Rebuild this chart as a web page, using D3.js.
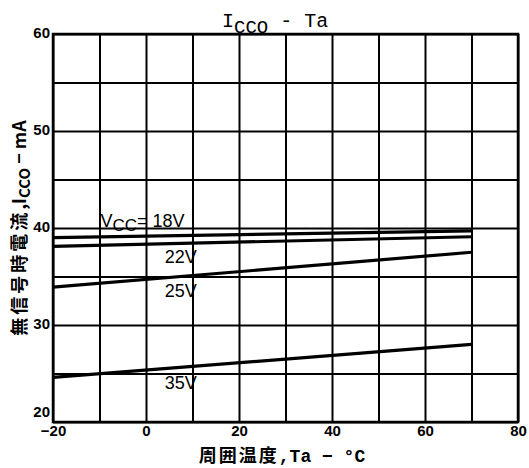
<!DOCTYPE html>
<html><head><meta charset="utf-8">
<script src="https://cdn.jsdelivr.net/npm/d3@7"></script>
<style>
html,body{margin:0;padding:0;background:#fff;}
svg{display:block;}
</style></head>
<body>
<script>
// ---- data ----
const temps = [-20, 70];                 // Ta (°C)
const seriesNames = ["18V", "22V", "25V", "35V"];
const vcc18 = [39.0, 39.7];
const vcc22 = [38.1, 39.1];
const vcc25 = [33.9, 37.5];
const vcc35 = [24.6, 28.0];
const xTickLabels = [-20, 0, 20, 40, 60, 80];
const yTickLabels = [20, 30, 40, 50, 60];
const xGrid = [-20, -10, 0, 10, 20, 30, 40, 50, 60, 70, 80];
const yGrid = [20, 25, 30, 35, 40, 45, 50, 55, 60];
// label anchor positions (data coords)
const labelTa = [-10, 1, 1, 1];
const labelI  = [40.1, 36.4, 32.9, 23.4];

const W = 529, H = 468;
const m = {l: 53, r: 11, t: 34, b: 46};
const svg = d3.select("body").append("svg").attr("width", W).attr("height", H);

const x = d3.scaleLinear().domain([-20, 80]).range([m.l, W - m.r]);
const y = d3.scaleLinear().domain([20, 60]).range([H - m.b, m.t]);
const pw = W - m.l - m.r, ph = H - m.t - m.b;

// grid via axes
const gx = svg.append("g").attr("transform", `translate(0,${H - m.b})`)
  .call(d3.axisBottom(x).tickValues(xGrid).tickSize(-ph).tickFormat(""));
const gy = svg.append("g").attr("transform", `translate(${m.l},0)`)
  .call(d3.axisLeft(y).tickValues(yGrid).tickSize(-pw).tickFormat(""));
[gx, gy].forEach(g => {
  g.select(".domain").remove();
  g.selectAll("line").attr("stroke", "#000").attr("stroke-width", 2);
});
svg.append("rect").attr("x", m.l).attr("y", m.t).attr("width", pw).attr("height", ph)
  .attr("fill", "none").attr("stroke", "#000").attr("stroke-width", 2.5);

// tick labels
const ax = svg.append("g").attr("transform", `translate(0,${H - m.b})`)
  .call(d3.axisBottom(x).tickValues(xTickLabels).tickSize(0).tickPadding(3));
ax.select(".domain").remove();
ax.selectAll("text").attr("font-family", "Liberation Sans, Arial, sans-serif")
  .attr("font-weight", "bold").attr("font-size", 15).attr("fill", "#000");
const ay = svg.append("g").attr("transform", `translate(${m.l},0)`)
  .call(d3.axisLeft(y).tickValues(yTickLabels).tickSize(0).tickPadding(3));
ay.select(".domain").remove();
ay.selectAll("text").attr("font-family", "Liberation Sans, Arial, sans-serif")
  .attr("font-weight", "bold").attr("font-size", 15).attr("fill", "#000")
  .attr("dy", d => d === 20 ? "-0.4em" : "0.25em");

// lines
const series = [vcc18, vcc22, vcc25, vcc35];
const line = d3.line().x(d => x(d[0])).y(d => y(d[1]));
series.forEach(s => {
  svg.append("path").datum(temps.map((t, i) => [t, s[i]]))
    .attr("d", line).attr("fill", "none").attr("stroke", "#000").attr("stroke-width", 3.2);
});

// series labels
const lf = "Liberation Sans, Arial, sans-serif";
seriesNames.forEach((n, i) => {
  const t = svg.append("text").attr("x", x(labelTa[i])).attr("y", y(labelI[i]))
    .attr("font-family", lf).attr("font-size", 18).attr("fill", "#000");
  if (i === 0) {
    t.append("tspan").text("V");
    t.append("tspan").attr("dy", 4).attr("font-size", 17).text("CC");
    t.append("tspan").attr("dy", -4).text("= " + n);
    t.attr("x", x(labelTa[i]) + 1);
  } else {
    t.attr("x", x(labelTa[i]) + 14).text(n);
  }
});

// title
const tt = svg.append("text").attr("x", 222).attr("y", 27)
  .attr("font-family", "Liberation Mono, DejaVu Sans Mono, monospace")
  .attr("font-size", 20).attr("fill", "#000");
tt.append("tspan").text("I");
tt.append("tspan").attr("dy", 6).attr("font-size", 19).text("CCO");
tt.append("tspan").attr("dy", -6).text(" - Ta");

// x axis title
const xt = svg.append("text").attr("x", 282).attr("y", 462).attr("text-anchor", "middle")
  .attr("font-family", "Noto Sans CJK JP, sans-serif").attr("font-size", 18)
  .attr("font-weight", "bold").attr("fill", "#000");
xt.append("tspan").attr("letter-spacing", 2).text("周囲温度");
xt.append("tspan").attr("font-family", "Liberation Mono, monospace").text(",Ta − °C");

// y axis title
const yt = svg.append("text").attr("transform", "translate(26,228) rotate(-90)")
  .attr("text-anchor", "middle")
  .attr("font-family", "Noto Sans CJK JP, sans-serif").attr("font-size", 18)
  .attr("font-weight", "bold").attr("fill", "#000");
yt.append("tspan").attr("letter-spacing", 3).text("無信号時電流");
yt.append("tspan").text(",I");
yt.append("tspan").attr("dy", 4).attr("font-size", 15).text("CCO");
yt.append("tspan").attr("dy", -4).text(" − mA");
</script>
</body></html>
